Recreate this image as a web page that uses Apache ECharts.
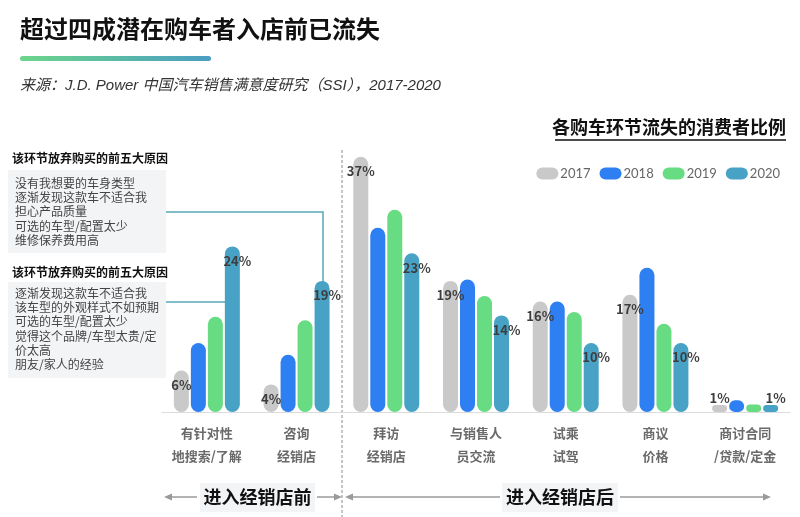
<!DOCTYPE html>
<html>
<head>
<meta charset="utf-8">
<script src="https://cdn.jsdelivr.net/npm/echarts@6/dist/echarts.min.js"></script>
<style>
  html, body { margin: 0; padding: 0; background: #ffffff; }
  #chart { width: 800px; height: 517px; }
</style>
</head>
<body>
<div id="chart"></div>
<script>
// ---------- data ----------
var categories = ['有针对性\n地搜索/了解', '咨询\n经销店', '拜访\n经销店', '与销售人\n员交流', '试乘\n试驾', '商议\n价格', '商讨合同\n/贷款/定金'];
var seriesNames = ['2017', '2018', '2019', '2020'];
var values2017 = [6, 4, 37, 19, 16, 17, 1];
var values2018 = [10, 8.3, 26.7, 19.2, 16, 20.9, 1.7];
var values2019 = [13.8, 13.3, 29.3, 16.8, 14.5, 12.8, 1.1];
var values2020 = [24, 19, 23, 14, 10, 10, 1];
var reasonsHeading = '该环节放弃购买的前五大原因';
var reasonsConsult = ['没有我想要的车身类型', '逐渐发现这款车不适合我', '担心产品质量', '可选的车型/配置太少', '维修保养费用高'];
var reasonsSearch = ['逐渐发现这款车不适合我', '该车型的外观样式不如预期', '可选的车型/配置太少', '觉得这个品牌/车型太贵/定', '价太高', '朋友/家人的经验'];
var titleText = '超过四成潜在购车者入店前已流失';
var sourceText = '来源：J.D. Power 中国汽车销售满意度研究（SSI），2017-2020';
var chartSubtitle = '各购车环节流失的消费者比例';
var phaseBefore = '进入经销店前';
var phaseAfter = '进入经销店后';

// ---------- styles ----------
var colors = ['#c9c9c9', '#2e7ff2', '#67dc83', '#47a2c6'];
var FONT = '"Noto Sans CJK SC", "Noto Sans", sans-serif';
var labelStyle = { fontSize: 13, fontWeight: 'bold', color: '#3d3d3d', fontFamily: FONT };

function withLastTop(arr) {
  return arr.map(function (v, i) {
    if (i === arr.length - 1) {
      return { value: v, label: { position: 'top', distance: 1 } };
    }
    return v;
  });
}

var pill = 'path://M6,0 L16,0 A6,6 0 0 1 16,12 L6,12 A6,6 0 0 1 6,0 Z';

var chart = echarts.init(document.getElementById('chart'), null, { renderer: 'canvas' });

var option = {
  animation: false,
  backgroundColor: '#ffffff',
  textStyle: { fontFamily: FONT },
  color: colors,
  grid: { left: 162, right: 10, top: 136, bottom: 105, containLabel: false },
  legend: {
    data: seriesNames.map(function (n) { return { name: n, icon: pill }; }),
    right: 15, top: 162,
    itemWidth: 22, itemHeight: 12, itemGap: 9,
    textStyle: { fontSize: 13, color: '#666', fontFamily: 'Lato, "Open Sans", sans-serif', padding: [0, 0, 0, -3] }
  },
  xAxis: {
    type: 'category',
    data: categories,
    axisTick: { show: false },
    axisLine: { lineStyle: { color: '#dcdcdc', width: 1 } },
    axisLabel: { fontSize: 13, color: '#6a6a6a', fontWeight: 'bold', lineHeight: 23, margin: 10, interval: 0, fontFamily: FONT }
  },
  yAxis: { type: 'value', min: 0, max: 40, show: false, splitLine: { show: false } },
  series: [
    {
      name: seriesNames[0], type: 'bar', data: withLastTop(values2017),
      barWidth: 15, barGap: '13.3%',
      itemStyle: { color: colors[0], borderRadius: 7.5 },
      label: Object.assign({ show: true, position: 'insideTop', distance: 8, formatter: '{c}%' }, labelStyle)
    },
    {
      name: seriesNames[1], type: 'bar', data: values2018,
      barWidth: 15, barGap: '13.3%',
      itemStyle: { color: colors[1], borderRadius: 7.5 }
    },
    {
      name: seriesNames[2], type: 'bar', data: values2019,
      barWidth: 15, barGap: '13.3%',
      itemStyle: { color: colors[2], borderRadius: 7.5 }
    },
    {
      name: seriesNames[3], type: 'bar', data: withLastTop(values2020),
      barWidth: 15, barGap: '13.3%',
      itemStyle: { color: colors[3], borderRadius: 7.5 },
      label: Object.assign({ show: true, position: 'insideTop', distance: 8, offset: [5, 0], formatter: '{c}%' }, labelStyle)
    }
  ],
  graphic: [
    // title
    { type: 'text', left: 20, top: 17, style: { text: titleText, font: 'bold 24px ' + FONT, fill: '#111' } },
    { type: 'rect', shape: { x: 20, y: 56, width: 191, height: 5, r: 2.5 },
      style: { fill: new echarts.graphic.LinearGradient(0, 0, 1, 0, [{ offset: 0, color: '#6cd68a' }, { offset: 1, color: '#4a9dc2' }]) } },
    { type: 'text', left: 20, top: 78, style: { text: sourceText, font: 'italic 15px "Liberation Sans", ' + FONT, fill: '#333' } },
    // chart subtitle with underline
    { type: 'text', right: 14, top: 118, style: { text: chartSubtitle, font: 'bold 18px ' + FONT, fill: '#111' } },
    { type: 'line', shape: { x1: 555, y1: 140, x2: 786, y2: 140 }, style: { stroke: '#111', lineWidth: 1.5 } },
    // reason boxes
    { type: 'text', left: 12, top: 152, style: { text: reasonsHeading, font: 'bold 12px ' + FONT, fill: '#111' } },
    { type: 'rect', shape: { x: 8, y: 170, width: 158, height: 83 }, style: { fill: '#f3f4f6' } },
    { type: 'text', left: 15, top: 176, style: { text: reasonsConsult.join('\n'), font: '12px ' + FONT, fill: '#444', lineHeight: 14.3 } },
    { type: 'text', left: 12, top: 266, style: { text: reasonsHeading, font: 'bold 12px ' + FONT, fill: '#111' } },
    { type: 'rect', shape: { x: 8, y: 282, width: 158, height: 96 }, style: { fill: '#f3f4f6' } },
    { type: 'text', left: 15, top: 286, style: { text: reasonsSearch.join('\n'), font: '12px ' + FONT, fill: '#444', lineHeight: 14.3 } },
    // connectors
    { type: 'polyline', shape: { points: [[166, 212], [323, 212], [323, 283]] }, style: { stroke: '#5aa6b8', lineWidth: 1.5, fill: null } },
    { type: 'line', shape: { x1: 166, y1: 302, x2: 225, y2: 302 }, style: { stroke: '#5aa6b8', lineWidth: 1.5 } },
    // separator
    { type: 'line', shape: { x1: 342, y1: 150, x2: 342, y2: 517 }, style: { stroke: '#8a8a8a', lineWidth: 1, lineDash: [3, 2] } },
    // phase arrows
    { type: 'line', shape: { x1: 170, y1: 497, x2: 197, y2: 497 }, style: { stroke: '#9a9a9a', lineWidth: 1.5 } },
    { type: 'polygon', shape: { points: [[164, 497], [172, 493.5], [172, 500.5]] }, style: { fill: '#9a9a9a' } },
    { type: 'rect', shape: { x: 200, y: 483, width: 115, height: 29 }, style: { fill: '#f3f4f6' } },
    { type: 'text', x: 257.5, y: 497, style: { text: phaseBefore, font: 'bold 18px ' + FONT, fill: '#111', textAlign: 'center', textVerticalAlign: 'middle' } },
    { type: 'line', shape: { x1: 317, y1: 497, x2: 336, y2: 497 }, style: { stroke: '#9a9a9a', lineWidth: 1.5 } },
    { type: 'polygon', shape: { points: [[342, 497], [334, 493.5], [334, 500.5]] }, style: { fill: '#9a9a9a' } },
    { type: 'polygon', shape: { points: [[345, 497], [353, 493.5], [353, 500.5]] }, style: { fill: '#9a9a9a' } },
    { type: 'line', shape: { x1: 351, y1: 497, x2: 500, y2: 497 }, style: { stroke: '#9a9a9a', lineWidth: 1.5 } },
    { type: 'rect', shape: { x: 502, y: 483, width: 116, height: 29 }, style: { fill: '#f3f4f6' } },
    { type: 'text', x: 560, y: 497, style: { text: phaseAfter, font: 'bold 18px ' + FONT, fill: '#111', textAlign: 'center', textVerticalAlign: 'middle' } },
    { type: 'line', shape: { x1: 620, y1: 497, x2: 764, y2: 497 }, style: { stroke: '#9a9a9a', lineWidth: 1.5 } },
    { type: 'polygon', shape: { points: [[771, 497], [763, 493.5], [763, 500.5]] }, style: { fill: '#9a9a9a' } }
  ]
};

chart.setOption(option);
</script>
</body>
</html>
